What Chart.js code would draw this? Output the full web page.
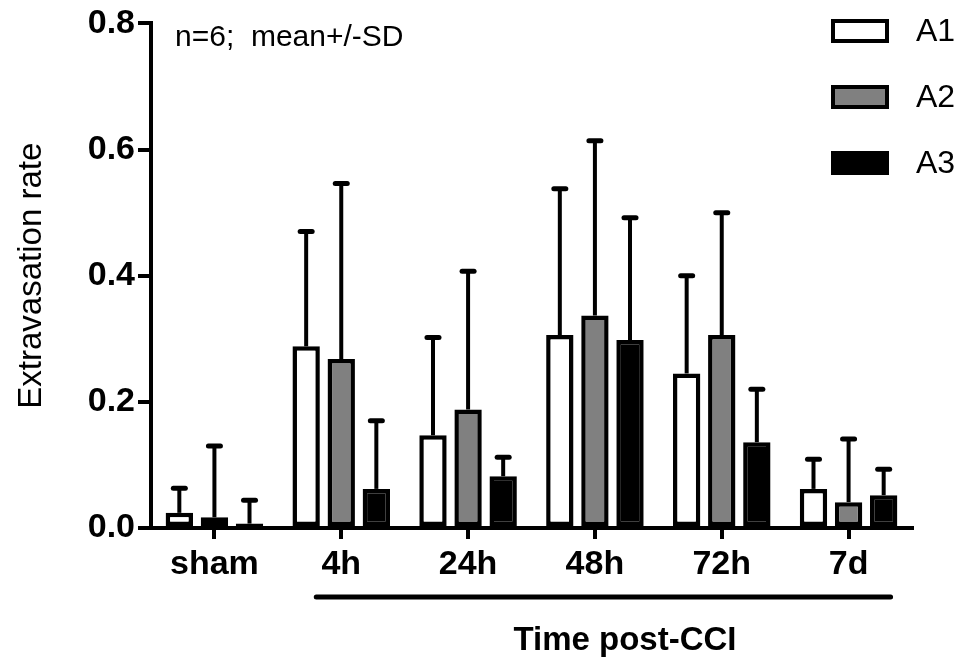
<!DOCTYPE html>
<html>
<head>
<meta charset="utf-8">
<script src="https://cdn.jsdelivr.net/npm/chart.js@4.4.1/dist/chart.umd.min.js"></script>
<style>
  body { margin: 0; background: #fff; }
</style>
</head>
<body>
<canvas id="myChart" width="968" height="670"></canvas>
<script>
const groups = ['sham', '4h', '24h', '48h', '72h', '7d'];
const seriesNames = ['A1', 'A2', 'A3'];
// means
const a1Mean = [0.024, 0.288, 0.147, 0.306, 0.245, 0.062];
const a2Mean = [0.017, 0.268, 0.188, 0.337, 0.306, 0.041];
const a3Mean = [0.007, 0.062, 0.082, 0.298, 0.136, 0.052];
// upper end of the error bars (mean + SD)
const a1Top = [0.063, 0.470, 0.302, 0.538, 0.400, 0.109];
const a2Top = [0.130, 0.546, 0.407, 0.614, 0.500, 0.141];
const a3Top = [0.044, 0.170, 0.112, 0.492, 0.220, 0.093];
const yTicks = [0, 0.2, 0.4, 0.6, 0.8];
const noteText = 'n=6;  mean+/-SD';
const xTitle = 'Time post-CCI';
const yTitle = 'Extravasation rate';

const fills = ['#ffffff', '#808080', '#000000'];
const tops = [a1Top, a2Top, a3Top];
const FONT = "'Liberation Sans', Arial, Helvetica, sans-serif";

// error bars, legend, note and bottom bracket
const extras = {
    id: 'extras',
    afterDatasetsDraw(chart) {
        const c = chart.ctx;
        const ys = chart.scales.y;
        const xs = chart.scales.x;
        c.save();
        c.strokeStyle = '#000';
        c.lineWidth = 4;
        chart.data.datasets.forEach((ds, i) => {
            const meta = chart.getDatasetMeta(i);
            meta.data.forEach((bar, j) => {
                const yTop = ys.getPixelForValue(tops[i][j]);
                c.beginPath();
                c.moveTo(bar.x, bar.y);
                c.lineTo(bar.x, yTop);
                c.stroke();
                c.beginPath();
                c.lineWidth = 5;
                c.lineCap = 'round';
                c.moveTo(bar.x - 6, yTop);
                c.lineTo(bar.x + 6, yTop);
                c.stroke();
                c.lineWidth = 4;
                c.lineCap = 'butt';
            });
        });

        // bracket under the post-CCI groups
        const x1 = xs.getPixelForValue(1) - 25;
        const x2 = xs.getPixelForValue(5) + 42;
        c.lineWidth = 5;
        c.lineCap = 'round';
        c.beginPath();
        c.moveTo(x1, 597);
        c.lineTo(x2, 597);
        c.stroke();

        c.fillStyle = '#000';
        c.font = 'bold 33px ' + FONT;
        c.textAlign = 'center';
        c.textBaseline = 'middle';
        c.fillText(xTitle, 625, 641);

        c.font = '30px ' + FONT;
        c.textAlign = 'left';
        c.fillText(noteText, 175, 38);

        // legend
        c.lineCap = 'butt';
        c.lineWidth = 4;
        seriesNames.forEach((name, i) => {
            const yy = 31 + i * 66;
            c.fillStyle = fills[i];
            c.fillRect(833, yy - 10, 54, 20);
            c.strokeRect(833, yy - 10, 54, 20);
            c.fillStyle = '#000';
            c.font = '32px ' + FONT;
            c.fillText(name, 916, yy + 1);
        });
        c.restore();
    }
};

const ctx = document.getElementById('myChart');
const myChart = new Chart(ctx, {
    type: 'bar',
    data: {
        labels: groups,
        datasets: [
            { label: seriesNames[0], data: a1Mean, backgroundColor: fills[0] },
            { label: seriesNames[1], data: a2Mean, backgroundColor: fills[1] },
            { label: seriesNames[2], data: a3Mean, backgroundColor: fills[2] }
        ].map(d => Object.assign(d, {
            borderColor: '#000',
            borderWidth: 4.5,
            borderSkipped: false,
            categoryPercentage: 0.83,
            barPercentage: 0.78
        }))
    },
    options: {
        responsive: false,
        animation: false,
        layout: { padding: { top: 23, right: 56, left: 0, bottom: 0 } },
        plugins: {
            legend: { display: false },
            tooltip: { enabled: false }
        },
        scales: {
            x: {
                afterFit: s => { s.height = 142; },
                grid: {
                    offset: false,
                    drawOnChartArea: false,
                    tickLength: 11,
                    lineWidth: 4,
                    color: '#000'
                },
                border: { display: true, width: 4, color: '#000' },
                ticks: {
                    color: '#000',
                    padding: 5,
                    font: { family: FONT, size: 34, weight: 'bold' }
                }
            },
            y: {
                min: 0,
                max: 0.8,
                afterFit: s => { s.width = 151; },
                afterBuildTicks: s => { s.ticks = yTicks.map(v => ({ value: v })); },
                grid: {
                    drawOnChartArea: false,
                    tickLength: 13,
                    lineWidth: 4,
                    color: '#000'
                },
                border: { display: true, width: 4, color: '#000' },
                ticks: {
                    color: '#000',
                    padding: 3,
                    font: { family: FONT, size: 34, weight: 'bold' },
                    callback: v => v.toFixed(1)
                },
                title: {
                    display: true,
                    text: yTitle,
                    color: '#000',
                    padding: 12,
                    font: { family: FONT, size: 33 }
                }
            }
        }
    },
    plugins: [extras]
});
</script>
</body>
</html>
